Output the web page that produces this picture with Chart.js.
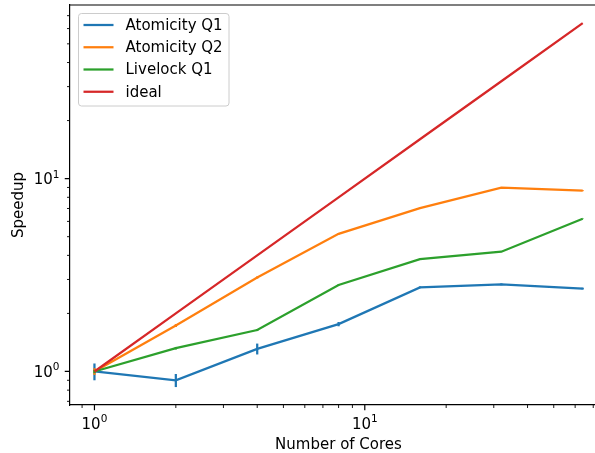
<!DOCTYPE html>
<html><head><meta charset="utf-8">
<script src="https://cdn.jsdelivr.net/npm/chart.js@4"></script>
<style>
html,body{margin:0;padding:0;background:#fff;}
#wrap{width:595px;height:453px;overflow:hidden;position:relative;background:#fff;}
#c{position:absolute;left:0;top:0;}
</style></head><body>
<div id="wrap"><canvas id="c" width="620" height="453"></canvas></div>
<script>
// ---- data ----
const cores = [1, 2, 4, 8, 16, 32, 64];
const atomicityQ1 = [1.00, 0.90, 1.31, 1.76, 2.73, 2.83, 2.69];
const atomicityQ1Err = [0.10, 0.07, 0.085, 0.045, 0.03, 0.03, 0.03];
const atomicityQ2 = [1.00, 1.73, 3.07, 5.17, 7.03, 8.99, 8.66];
const atomicityQ2Err = [0.04, 0.03, 0.04, 0.04, 0.04, 0.05, 0.05];
const livelockQ1 = [1.00, 1.32, 1.64, 2.81, 3.82, 4.18, 6.19];
const livelockQ1Err = [0.02, 0.02, 0.02, 0.02, 0.02, 0.02, 0.02];
const ideal = [1, 2, 4, 8, 16, 32, 64];
const seriesNames = ['Atomicity Q1', 'Atomicity Q2', 'Livelock Q1', 'ideal'];
const majorTicks = [1, 10];
const majorTickBase = '10';
const majorTickExponents = ['0', '1'];
const xMinorTicks = [0.9, 2, 3, 4, 5, 6, 7, 8, 9, 20, 30, 40, 50, 60, 70];
const yMinorTicks = [0.7, 0.8, 0.9, 2, 3, 4, 5, 6, 7, 8, 9, 20, 30, 40, 50, 60, 70];
const xLabel = 'Number of Cores';
const yLabel = 'Speedup';

const colors = ['#1f77b4', '#ff7f0e', '#2ca02c', '#d62728'];
const FONT = 'DejaVu Sans';
const FS = 15;
const FS_SUP = 10.5;

const seriesValues = [atomicityQ1, atomicityQ2, livelockQ1, ideal];
const seriesErrors = [atomicityQ1Err, atomicityQ2Err, livelockQ1Err, null];

const datasets = seriesValues.map((arr, i) => ({
  label: seriesNames[i],
  data: cores.map((c, j) => ({ x: c, y: arr[j] })),
  borderColor: colors[i],
  backgroundColor: colors[i],
  borderWidth: 2.25,
  pointRadius: 0,
  pointHoverRadius: 0,
  tension: 0,
  fill: false,
  order: 3 - i,
  errors: seriesErrors[i]
}));

const errorBarPlugin = {
  id: 'errbars',
  afterDatasetDraw(chart, args) {
    const ds = chart.data.datasets[args.index];
    if (!ds.errors) return;
    const xs = chart.scales.x, ys = chart.scales.y, ctx = chart.ctx;
    ctx.save();
    ctx.strokeStyle = ds.borderColor;
    ctx.lineWidth = 2.25;
    ctx.lineCap = 'butt';
    ds.data.forEach((p, j) => {
      const e = ds.errors[j];
      const px = xs.getPixelForValue(p.x);
      ctx.beginPath();
      ctx.moveTo(px, ys.getPixelForValue(p.y - e));
      ctx.lineTo(px, ys.getPixelForValue(p.y + e));
      ctx.stroke();
    });
    ctx.restore();
  }
};

const decorPlugin = {
  id: 'decor',
  afterDraw(chart) {
    const ctx = chart.ctx, xs = chart.scales.x, ys = chart.scales.y, a = chart.chartArea;
    ctx.save();
    // top / right spines
    ctx.strokeStyle = '#000';
    ctx.lineWidth = 1.2;
    ctx.beginPath();
    ctx.moveTo(a.left - 0.6, a.top); ctx.lineTo(a.right, a.top);
    ctx.moveTo(a.right, a.top); ctx.lineTo(a.right, a.bottom);
    ctx.stroke();
    // tick marks
    const tick = (vals, len, w, isX) => {
      ctx.lineWidth = w;
      ctx.beginPath();
      vals.forEach(v => {
        if (isX) {
          const px = xs.getPixelForValue(v);
          ctx.moveTo(px, a.bottom); ctx.lineTo(px, a.bottom + len);
        } else {
          const py = ys.getPixelForValue(v);
          ctx.moveTo(a.left, py); ctx.lineTo(a.left - len, py);
        }
      });
      ctx.stroke();
    };
    tick(majorTicks, 5.25, 1.2, true);
    tick(xMinorTicks, 3.0, 0.9, true);
    tick(majorTicks, 5.25, 1.2, false);
    tick(yMinorTicks, 3.0, 0.9, false);
    // tick labels (10 with superscript exponent)
    ctx.fillStyle = '#000';
    ctx.textBaseline = 'alphabetic';
    ctx.textAlign = 'left';
    const baseFont = FS + 'px "' + FONT + '"';
    const supFont = FS_SUP + 'px "' + FONT + '"';
    const drawPow = (exp, x, y, anchor) => {
      ctx.font = baseFont;
      const wb = ctx.measureText(majorTickBase).width;
      ctx.font = supFont;
      const we = ctx.measureText(exp).width;
      const total = wb + we;
      let x0 = anchor === 'center' ? x - total / 2 : x - total;
      ctx.font = baseFont;
      ctx.fillText(majorTickBase, x0, y);
      ctx.font = supFont;
      ctx.fillText(exp, x0 + wb, y - 6.5);
    };
    majorTicks.forEach((v, i) => {
      drawPow(majorTickExponents[i], xs.getPixelForValue(v), a.bottom + 23.5, 'center');
      drawPow(majorTickExponents[i], a.left - 10.5, ys.getPixelForValue(v) + 5.5, 'right');
    });
    // legend
    const lx = 78.5, ly = 13.5, lw = 150.5, lh = 92.5, r = 3;
    ctx.fillStyle = 'rgba(255,255,255,0.8)';
    ctx.strokeStyle = '#cccccc';
    ctx.lineWidth = 1;
    ctx.beginPath();
    ctx.moveTo(lx + r, ly);
    ctx.lineTo(lx + lw - r, ly); ctx.arcTo(lx + lw, ly, lx + lw, ly + r, r);
    ctx.lineTo(lx + lw, ly + lh - r); ctx.arcTo(lx + lw, ly + lh, lx + lw - r, ly + lh, r);
    ctx.lineTo(lx + r, ly + lh); ctx.arcTo(lx, ly + lh, lx, ly + lh - r, r);
    ctx.lineTo(lx, ly + r); ctx.arcTo(lx, ly, lx + r, ly, r);
    ctx.closePath();
    ctx.fill(); ctx.stroke();
    ctx.font = baseFont;
    ctx.textBaseline = 'middle';
    ctx.textAlign = 'left';
    chart.data.datasets.forEach((ds, i) => {
      const cy = 25 + i * 22.25;
      ctx.strokeStyle = ds.borderColor;
      ctx.lineWidth = 2.25;
      ctx.beginPath();
      ctx.moveTo(83.5, cy); ctx.lineTo(113.5, cy);
      ctx.stroke();
      ctx.fillStyle = '#000';
      ctx.fillText(ds.label, 125.5, cy + 1);
    });
    ctx.restore();
  }
};

new Chart(document.getElementById('c'), {
  type: 'line',
  data: { datasets },
  plugins: [errorBarPlugin, decorPlugin],
  options: {
    responsive: false,
    animation: false,
    devicePixelRatio: 1,
    layout: { padding: { top: 5, right: 13, left: 0, bottom: 0 } },
    plugins: { legend: { display: false }, tooltip: { enabled: false } },
    scales: {
      x: {
        type: 'logarithmic',
        min: 0.812, max: 78.7,
        grid: { display: false },
        border: { display: true, color: '#000', width: 1.2, z: 1 },
        ticks: { display: false },
        afterBuildTicks: s => { s.ticks = majorTicks.map(v => ({ value: v })); },
        afterFit: s => { s.height = 48; s.paddingLeft = 0; s.paddingRight = 0; },
        title: { display: true, text: xLabel, color: '#000', font: { family: FONT, size: FS }, padding: { top: 0, bottom: -1 } }
      },
      y: {
        type: 'logarithmic',
        min: 0.67, max: 79.5,
        grid: { display: false },
        border: { display: true, color: '#000', width: 1.2, z: 1 },
        ticks: { display: false },
        afterBuildTicks: s => { s.ticks = majorTicks.map(v => ({ value: v })); },
        afterFit: s => { s.width = 70; s.paddingTop = 0; s.paddingBottom = 0; },
        title: { display: true, text: yLabel, color: '#000', font: { family: FONT, size: FS }, padding: { top: 10, bottom: 0 } }
      }
    }
  }
});
</script>
</body></html>
